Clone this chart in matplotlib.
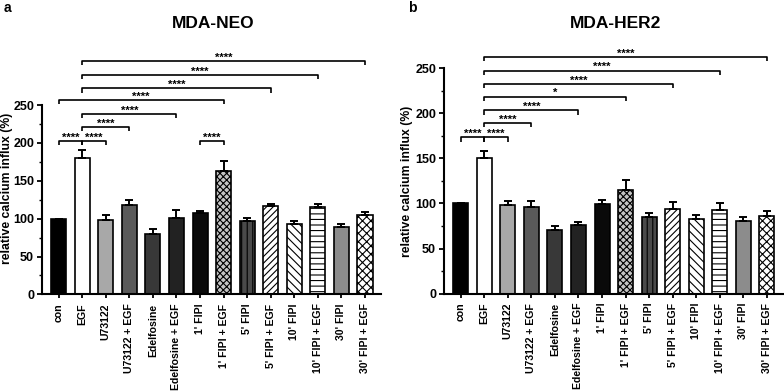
import matplotlib

matplotlib.use("Agg")
import matplotlib.pyplot as plt
from matplotlib.ticker import MultipleLocator

plt.rcParams["font.family"] = ["Liberation Sans", "DejaVu Sans"]
plt.rcParams["font.weight"] = "bold"
plt.rcParams["axes.labelweight"] = "bold"
plt.rcParams["hatch.linewidth"] = 0.8

categories = [
    "con", "EGF", "U73122", "U73122 + EGF", "Edelfosine", "Edelfosine + EGF",
    "1' FIPI", "1' FIPI + EGF", "5' FIPI", "5' FIPI + EGF", "10' FIPI",
    "10' FIPI + EGF", "30' FIPI", "30' FIPI + EGF",
]

# relative calcium influx (%), mean and upper error
neo_mean = [100, 180.5, 98.5, 118, 79.5, 100.5, 108, 163, 97, 117, 93, 116, 89, 105]
neo_err = [0, 9.5, 6, 7, 7, 10.5, 2.5, 13, 3.5, 3, 3.5, 3.5, 3.5, 3.5]
her2_mean = [100, 150.5, 98.5, 96.5, 71, 76.5, 99, 115, 85, 94, 82.5, 93, 80.5, 86.5]
her2_err = [0, 8, 4.5, 6.5, 3.5, 3, 5, 11.5, 4.5, 7.5, 4.5, 7, 5, 5.5]

# significance brackets: (from index, to index, height, label)
neo_sig = [
    (0, 1, 202.6, "****"), (1, 2, 202.6, "****"), (6, 7, 202.6, "****"),
    (1, 3, 221, "****"), (1, 5, 238, "****"), (0, 7, 256.6, "****"),
    (1, 9, 272, "****"), (1, 11, 290, "****"), (1, 13, 308.4, "****"),
]
her2_sig = [
    (0, 1, 173.5, "****"), (1, 2, 173.5, "****"), (1, 3, 189.2, "****"),
    (1, 5, 203.4, "****"), (1, 7, 218.3, "*"), (1, 9, 232.5, "****"),
    (1, 11, 247.4, "****"), (1, 13, 262.3, "****"),
]

# bar styles per condition: (face colour, hatch)
styles = [
    ("#000000", ""), ("#ffffff", ""), ("#a8a8a8", ""), ("#5a5a5a", ""),
    ("#383838", ""), ("#222222", ""), ("#0a0a0a", ""), ("#c4c4c4", "xxxxx"),
    ("#4a4a4a", "|||"), ("#ffffff", "/////"), ("#ffffff", "\\\\\\\\"),
    ("#ffffff", "---"), ("#8c8c8c", ""), ("#ffffff", "xxxx"),
]


def draw_panel(ax, means, errs, sigs, arm, label_xy):
    x = list(range(len(categories)))
    for i, (m, (fc, hatch)) in enumerate(zip(means, styles)):
        ax.bar(i, m, width=0.64, color=fc, edgecolor="black", linewidth=1.2,
               hatch=hatch, zorder=2)
    ax.errorbar(x, means, yerr=[[0] * len(errs), errs], fmt="none",
                ecolor="black", elinewidth=1.4, capsize=2.8, capthick=1.4, zorder=3)
    for a, b, y, lab in sigs:
        ax.plot([a, a, b, b], [y - arm, y, y, y - arm], color="black", lw=1.2,
                clip_on=False, solid_capstyle="butt")
        ax.text((a + b) / 2, y + 0.5, lab, ha="center", va="baseline",
                fontsize=8, fontweight="bold", clip_on=False)
    ax.set_xlim(-0.72, 13.68)
    ax.set_ylim(0, 250)
    ax.yaxis.set_major_locator(MultipleLocator(50))
    ax.yaxis.set_minor_locator(MultipleLocator(25))
    ax.set_xticks(x)
    ax.set_xticklabels(categories, rotation=90, fontsize=7.6, fontweight="bold")
    for t in ax.get_yticklabels():
        t.set_fontweight("bold")
    ax.tick_params(axis="y", labelsize=9, width=1.3, length=3.5, pad=2)
    ax.tick_params(axis="y", which="minor", width=1.0, length=2)
    ax.tick_params(axis="x", width=1.3, length=3)
    for s in ("top", "right"):
        ax.spines[s].set_visible(False)
    for s in ("left", "bottom"):
        ax.spines[s].set_linewidth(1.5)
    ax.set_ylabel("relative calcium influx (%)", fontsize=8.8, fontweight="bold")
    ax.yaxis.set_label_coords(*label_xy)


fig = plt.figure(figsize=(7.84, 3.92), dpi=100)
ax1 = fig.add_axes([0.0532, 0.249, 0.4328, 0.483])
ax2 = fig.add_axes([0.566, 0.251, 0.4327, 0.575])

draw_panel(ax1, neo_mean, neo_err, neo_sig, 5.5, (-0.086, 0.56))
draw_panel(ax2, her2_mean, her2_err, her2_sig, 4.8, (-0.09, 0.5))

fig.text(213 / 784, 1 - 23 / 392, "MDA-NEO", ha="center", va="center",
         fontsize=12.5, fontweight="bold")
fig.text(616 / 784, 1 - 23 / 392, "MDA-HER2", ha="center", va="center",
         fontsize=12.5, fontweight="bold")
fig.text(4 / 784, 1 - 8 / 392, "a", ha="left", va="center", fontsize=10, fontweight="bold")
fig.text(408 / 784, 1 - 8 / 392, "b", ha="left", va="center", fontsize=10, fontweight="bold")

fig.savefig("out.png", dpi=100)
